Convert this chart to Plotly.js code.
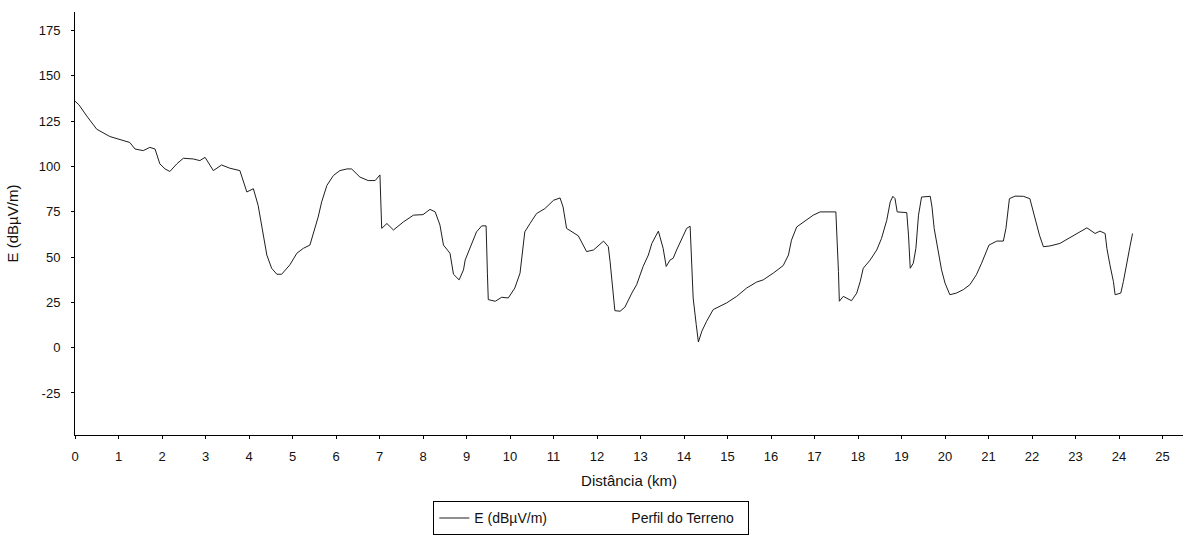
<!DOCTYPE html>
<html>
<head>
<meta charset="utf-8">
<script src="https://cdn.plot.ly/plotly-3.0.1.min.js"></script>
<style>html,body{margin:0;padding:0;background:#fff;}#chart{width:1187px;height:539px;}</style>
</head>
<body>
<div id="chart"></div>
<script>
const distanceKm = [0, 0.09, 0.27, 0.5, 0.8, 1.26, 1.38, 1.57, 1.72, 1.84, 1.95, 2.07, 2.18, 2.34, 2.49, 2.72, 2.87, 2.99, 3.18, 3.37, 3.56, 3.79, 3.95, 4.1, 4.21, 4.33, 4.41, 4.52, 4.64, 4.75, 4.94, 5.1, 5.25, 5.4, 5.52, 5.59, 5.67, 5.79, 5.94, 6.09, 6.25, 6.36, 6.55, 6.74, 6.9, 7.01, 7.05, 7.17, 7.32, 7.55, 7.78, 8.0, 8.16, 8.28, 8.39, 8.47, 8.62, 8.7, 8.83, 8.93, 8.97, 9.08, 9.23, 9.35, 9.45, 9.48, 9.5, 9.66, 9.81, 9.96, 10.11, 10.23, 10.29, 10.34, 10.46, 10.61, 10.8, 11.0, 11.15, 11.22, 11.3, 11.46, 11.57, 11.76, 11.92, 12.15, 12.26, 12.3, 12.38, 12.41, 12.53, 12.64, 12.8, 12.91, 13.06, 13.18, 13.26, 13.41, 13.52, 13.59, 13.68, 13.75, 13.83, 13.95, 14.06, 14.14, 14.18, 14.21, 14.28, 14.33, 14.41, 14.52, 14.67, 14.83, 14.98, 15.21, 15.44, 15.67, 15.82, 16.05, 16.28, 16.4, 16.47, 16.59, 16.74, 16.97, 17.13, 17.49, 17.55, 17.57, 17.66, 17.74, 17.85, 17.97, 18.05, 18.12, 18.28, 18.43, 18.54, 18.66, 18.74, 18.8, 18.85, 18.9, 19.12, 19.16, 19.2, 19.27, 19.33, 19.39, 19.46, 19.66, 19.7, 19.75, 19.85, 19.92, 20.0, 20.11, 20.26, 20.42, 20.57, 20.72, 20.84, 21.01, 21.19, 21.34, 21.4, 21.43, 21.48, 21.61, 21.8, 21.95, 22.02, 22.09, 22.17, 22.26, 22.41, 22.64, 22.84, 23.03, 23.26, 23.45, 23.56, 23.68, 23.72, 23.79, 23.87, 23.91, 24.04, 24.1, 24.18, 24.25, 24.31];

const fieldStrength = [136, 134, 127.8, 120.5, 116.5, 113.2, 109.6, 108.7, 110.5, 109.6, 101.4, 98.6, 97.2, 101.4, 104.5, 104.1, 103.2, 105, 97.7, 100.8, 99, 97.7, 85.9, 87.7, 78.5, 62, 51.1, 43.8, 40.5, 40.5, 45.7, 52.1, 54.8, 56.6, 65.8, 72.1, 80.4, 89.5, 95, 97.7, 98.6, 98.6, 94.1, 92.2, 92.2, 95.3, 65.8, 68.5, 64.9, 69.4, 73.1, 73.4, 76.3, 74.9, 67.6, 56.6, 52.1, 40.5, 37.4, 42.9, 48.4, 54.8, 63.9, 67.2, 67.2, 41.1, 26.5, 25.6, 27.8, 27.4, 32.9, 41.1, 54.8, 63.9, 68.5, 74, 76.7, 81.3, 82.6, 77.6, 65.8, 63.6, 61.7, 53, 53.9, 58.8, 55.7, 47.5, 29.2, 20.4, 20.1, 22.3, 30.1, 34.7, 44.8, 51.1, 57.5, 64.3, 54.8, 44.8, 48.4, 49.3, 53.9, 60.3, 65.8, 67, 40.2, 27.4, 12.8, 3.1, 9.1, 14.6, 21, 22.8, 24.7, 28.3, 32.9, 36.2, 37.4, 41.1, 45.3, 51.1, 59.3, 66.6, 69, 73.1, 74.9, 74.9, 42, 25.6, 28.3, 27.4, 25.9, 30.1, 36.5, 43.8, 48.4, 53.9, 60.3, 70.3, 80.4, 83.5, 82.2, 74.9, 74.5, 62.1, 43.8, 46.6, 54.8, 73.1, 83.1, 83.5, 77.6, 65.8, 53, 42.9, 35.6, 29.2, 30.1, 32, 34.7, 40.2, 46.6, 56.6, 58.8, 58.8, 65.8, 73.1, 82.2, 83.6, 83.5, 82.2, 75.8, 69.4, 62.1, 55.7, 56.1, 57.5, 60.3, 63, 66.1, 63, 64.3, 63, 54.8, 45.7, 36.5, 29.2, 30.1, 36.5, 45.7, 55.7, 63];

const xTicks = [0,1,2,3,4,5,6,7,8,9,10,11,12,13,14,15,16,17,18,19,20,21,22,23,24,25];
const yTicks = [-25, 0, 25, 50, 75, 100, 125, 150, 175];
const seriesNames = ['E (dBµV/m)', 'Perfil do Terreno'];

const traces = [
  {
    x: distanceKm, y: fieldStrength, type: 'scatter', mode: 'lines',
    name: seriesNames[0],
    line: {color: '#1e1e1e', width: 1}
  },
  {
    x: [null], y: [null], type: 'scatter', mode: 'lines',
    name: seriesNames[1],
    line: {color: 'rgba(0,0,0,0)', width: 1}
  }
];

const fam = 'Liberation Sans, Arial, sans-serif';

const layout = {
  width: 1187, height: 539,
  margin: {l: 75, r: 4, t: 12, b: 101},
  paper_bgcolor: '#fff', plot_bgcolor: '#fff',
  font: {family: fam, color: '#111', size: 13},
  showlegend: true,
  legend: {
    orientation: 'h', x: 0.466, xanchor: 'center', y: -0.157, yanchor: 'top',
    bordercolor: '#000', borderwidth: 1, bgcolor: '#fff',
    font: {family: fam, size: 14, color: '#111'},
    itemwidth: 30, entrywidth: 112, tracegroupgap: 0
  },
  xaxis: {
    range: [0, 25.47], tickvals: xTicks, ticktext: xTicks.map(String),
    showgrid: false, zeroline: false, showline: true, linecolor: '#000', linewidth: 1,
    ticks: 'outside', ticklen: 3, tickcolor: '#000', ticklabelstandoff: 6,
    tickfont: {family: fam, size: 13, color: '#111'},
    title: {text: 'Distância (km)', font: {family: fam, size: 15, color: '#111'}, standoff: 12}
  },
  yaxis: {
    range: [-48.2, 185.2], tickvals: yTicks, ticktext: yTicks.map(String),
    showgrid: false, zeroline: false, showline: true, linecolor: '#000', linewidth: 1,
    ticks: 'outside', ticklen: 3, tickcolor: '#000', ticklabelstandoff: 8,
    tickfont: {family: fam, size: 13, color: '#111'},
    title: {text: 'E (dBµV/m)', font: {family: fam, size: 15, color: '#111'}, standoff: 16}
  }
};

Plotly.newPlot('chart', traces, layout, {displayModeBar: false, staticPlot: true});
</script>
</body>
</html>
